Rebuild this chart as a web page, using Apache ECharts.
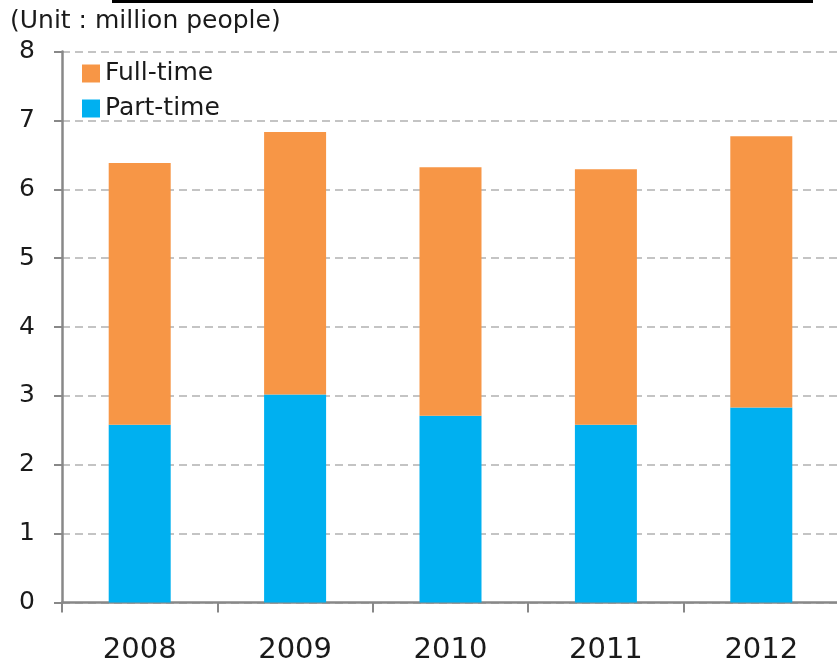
<!DOCTYPE html>
<html>
<head>
<meta charset="utf-8">
<script src="https://cdn.jsdelivr.net/npm/echarts@6/dist/echarts.min.js"></script>
<style>
  html, body { margin: 0; padding: 0; background: #fff; }
  #chart { width: 837px; height: 661px; }
</style>
</head>
<body>
<div id="chart"></div>
<script>
// Employment by type, million people
const years = ['2008', '2009', '2010', '2011', '2012'];
const partTime = [2.58, 3.02, 2.71, 2.58, 2.83];
const fullTime = [3.80, 3.81, 3.61, 3.71, 3.94];
const yTicks = { min: 0, max: 8, interval: 1 };

const FONT = '"DejaVu Sans", "Noto Sans", sans-serif';
const TEXT = '#1a1a1a';

const chart = echarts.init(document.getElementById('chart'), null, { renderer: 'canvas' });

chart.setOption({
  animation: false,
  backgroundColor: '#ffffff',
  textStyle: { fontFamily: FONT },
  grid: {
    left: 62, right: -2, top: 51.5, bottom: 58.5,
    containLabel: false,
    outerBoundsMode: 'none'
  },
  graphic: [
    { type: 'rect', shape: { x: 112, y: 0, width: 701, height: 3 }, style: { fill: '#000' } },
    {
      type: 'text', left: 10, top: 9,
      style: { text: '(Unit : million people)', font: '400 25px ' + FONT, fill: TEXT }
    }
  ],
  legend: {
    orient: 'vertical',
    left: 77, top: 56,
    padding: 5,
    itemWidth: 18, itemHeight: 18, itemGap: 10,
    icon: 'rect',
    textStyle: { fontSize: 25, color: TEXT, fontFamily: FONT, padding: [0, 0, 0, 0] },
    data: ['Full-time', 'Part-time']
  },
  xAxis: {
    type: 'category',
    data: years,
    axisLine: { lineStyle: { color: '#888', width: 2.5 } },
    axisTick: { show: true, length: 10, alignWithLabel: false, lineStyle: { color: '#888', width: 2 } },
    axisLabel: { fontSize: 29, color: TEXT, margin: 33, fontFamily: FONT }
  },
  yAxis: {
    type: 'value',
    min: yTicks.min, max: yTicks.max, interval: yTicks.interval,
    axisLine: { show: true, lineStyle: { color: '#888', width: 2.5 } },
    axisTick: { show: true, length: 8, lineStyle: { color: '#888', width: 2 } },
    axisLabel: { fontSize: 25, color: TEXT, margin: 27, fontFamily: FONT },
    splitLine: { show: true, lineStyle: { color: '#c4c4c4', width: 2, type: [8, 5] } }
  },
  series: [
    {
      name: 'Part-time', type: 'bar', stack: 'total', data: partTime,
      barWidth: 62,
      itemStyle: { color: '#00B0F0' }
    },
    {
      name: 'Full-time', type: 'bar', stack: 'total', data: fullTime,
      barWidth: 62,
      itemStyle: { color: '#F79646' }
    }
  ]
});
</script>
</body>
</html>
